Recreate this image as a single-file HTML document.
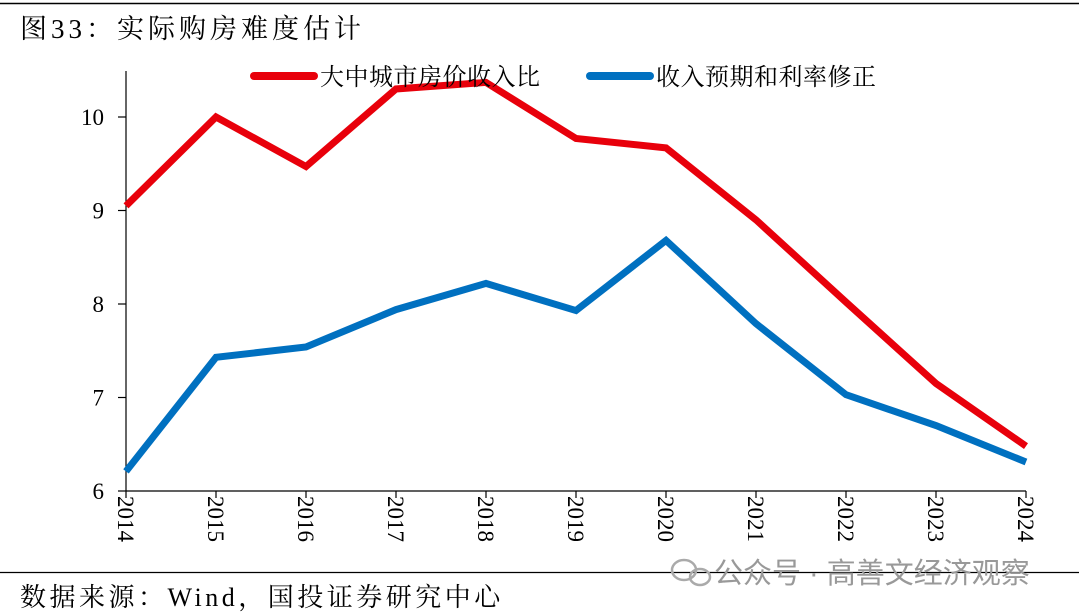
<!DOCTYPE html>
<html><head><meta charset="utf-8"><style>
body{margin:0;background:#fff;width:1079px;height:615px;overflow:hidden;position:relative;font-family:"Liberation Serif","Noto Serif CJK SC",serif}
</style></head><body>
<svg width="1079" height="615" style="position:absolute;left:0;top:0">
<line x1="0" y1="3.5" x2="1079" y2="3.5" stroke="#000" stroke-width="1.5"/>
<text x="20" y="38" font-size="27" letter-spacing="4" fill="#000">图33：实际购房难度估计</text>
<line x1="0" y1="572.5" x2="1079" y2="572.5" stroke="#000" stroke-width="1.2"/>
<text x="20" y="606" font-size="26" letter-spacing="3.5" fill="#000">数据来源：Wind，国投证券研究中心</text>
<g>
<ellipse cx="684" cy="570" rx="12" ry="10" fill="none" stroke="#aaa" stroke-width="2.5"/>
<ellipse cx="700" cy="577" rx="10" ry="8" fill="none" stroke="#aaa" stroke-width="2.5"/>
<text x="714" y="583" font-size="29" fill="#999" font-family="Liberation Sans,Noto Sans CJK SC,sans-serif">公众号 · 高善文经济观察</text>
</g>
<g id="axes"></g><g id="series"></g>
<g>
<line x1="254" y1="76" x2="314" y2="76" stroke="#e8000b" stroke-width="8" stroke-linecap="round"/>
<text x="320" y="85" font-size="24" letter-spacing="0.5">大中城市房价收入比</text>
<line x1="590" y1="76" x2="650" y2="76" stroke="#0070c0" stroke-width="8" stroke-linecap="round"/>
<text x="656" y="85" font-size="24" letter-spacing="0.5">收入预期和利率修正</text>
</g>
</svg>
<script>
const years=["2014","2015","2016","2017","2018","2019","2020","2021","2022","2023","2024"];
const priceIncome=[9.05,10.0,9.47,10.3,10.37,9.77,9.67,8.9,8.02,7.15,6.48];
const adjusted=[6.21,7.43,7.54,7.94,8.22,7.93,8.68,7.79,7.03,6.7,6.31];
const yTicks=[6,7,8,9,10];
const NS="http://www.w3.org/2000/svg";
const x0=126,x1=1026,yb=491,ppu=93.5;
const xs=i=>x0+i*(x1-x0)/(years.length-1);
const ys=v=>yb-(v-6)*ppu;
function mk(t,a,p){const e=document.createElementNS(NS,t);for(const k in a)e.setAttribute(k,a[k]);p.appendChild(e);return e;}
const ax=document.getElementById('axes');
let yl=mk('line',{x1:x0,y1:71,x2:x0,y2:yb,stroke:'#000','stroke-width':1.2},ax);


let xl=mk('line',{x1:x0,y1:yb,x2:x1,y2:yb,stroke:'#000','stroke-width':1.2},ax);


yTicks.forEach(v=>{
 let t=mk('line',{x1:x0-8,y1:ys(v),x2:x0,y2:ys(v),stroke:'#000','stroke-width':1.2},ax);
 
 
 let l=mk('text',{x:x0-22,y:ys(v)+8,'font-size':23,'text-anchor':'end'},ax);
 l.textContent=v;
 
 
});
years.forEach((y,i)=>{
 let t=mk('line',{x1:xs(i),y1:yb,x2:xs(i),y2:yb+7,stroke:'#000','stroke-width':1.2},ax);
 
 
 let l=mk('text',{x:0,y:0,'font-size':23,transform:`translate(${xs(i)-8},${yb+5}) rotate(90)`},ax);
 l.textContent=y;
 
 
});
const sg=document.getElementById('series');
function line(d,c,n){
 let p=mk('polyline',{points:d.map((v,i)=>xs(i)+','+ys(v)).join(' '),fill:'none',stroke:c,'stroke-width':7,'stroke-linejoin':'miter'},sg);
 
 
}
line(priceIncome,'#e8000b','line-price-income-ratio');
line(adjusted,'#0070c0','line-adjusted-ratio');
</script>
</body></html>
